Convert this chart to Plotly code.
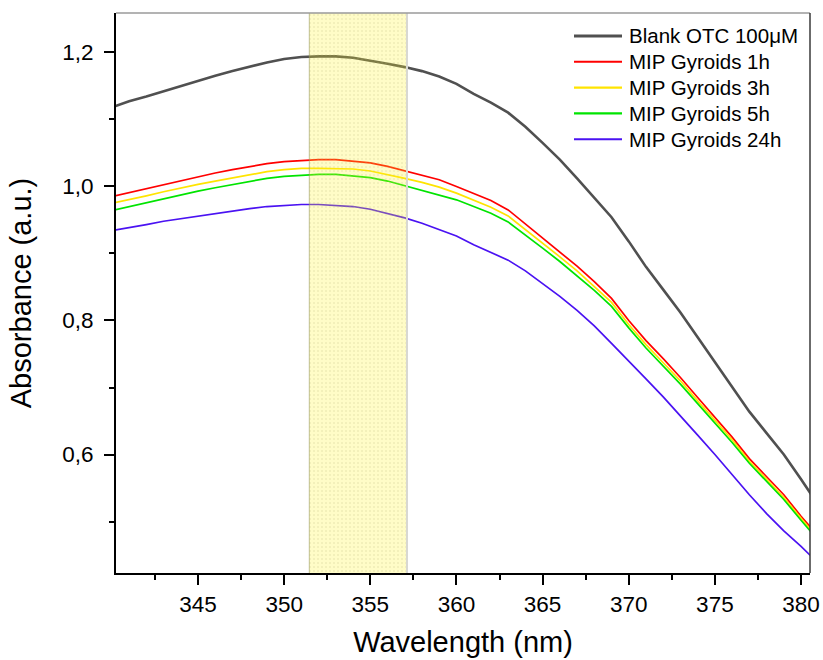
import plotly.graph_objects as go

# UV-Vis absorbance spectra (nm vs a.u.)
wavelength = list(range(340, 382))

blank_otc = [1.118, 1.127, 1.134, 1.142, 1.150, 1.158, 1.165, 1.172, 1.179, 1.185,
             1.190, 1.193, 1.194, 1.194, 1.192, 1.188, 1.183, 1.178, 1.172, 1.164,
             1.153, 1.138, 1.125, 1.110, 1.089, 1.065, 1.040, 1.012, 0.983, 0.954,
             0.918, 0.880, 0.846, 0.812, 0.775, 0.738, 0.700, 0.664, 0.632, 0.600,
             0.563, 0.525]

mip_1h = [0.985, 0.991, 0.997, 1.003, 1.009, 1.015, 1.020, 1.025, 1.030, 1.034,
          1.037, 1.039, 1.040, 1.040, 1.038, 1.035, 1.030, 1.023, 1.017, 1.010,
          1.000, 0.989, 0.979, 0.965, 0.944, 0.923, 0.902, 0.881, 0.858, 0.833,
          0.800, 0.770, 0.743, 0.715, 0.685, 0.656, 0.626, 0.594, 0.567, 0.540,
          0.508, 0.478]

mip_3h = [0.975, 0.980, 0.986, 0.992, 0.998, 1.003, 1.008, 1.013, 1.018, 1.022,
          1.025, 1.027, 1.027, 1.027, 1.026, 1.023, 1.018, 1.012, 1.006, 0.999,
          0.990, 0.979, 0.969, 0.956, 0.936, 0.915, 0.895, 0.874, 0.851, 0.827,
          0.794, 0.764, 0.737, 0.710, 0.680, 0.651, 0.622, 0.590, 0.563, 0.536,
          0.505, 0.475]

mip_5h = [0.964, 0.970, 0.976, 0.982, 0.988, 0.993, 0.998, 1.003, 1.008, 1.012,
          1.015, 1.017, 1.018, 1.018, 1.016, 1.013, 1.008, 1.001, 0.995, 0.988,
          0.980, 0.970, 0.960, 0.947, 0.928, 0.908, 0.888, 0.867, 0.845, 0.821,
          0.789, 0.759, 0.732, 0.705, 0.676, 0.647, 0.618, 0.587, 0.560, 0.533,
          0.502, 0.472]

mip_24h = [0.934, 0.938, 0.943, 0.948, 0.952, 0.956, 0.960, 0.964, 0.967, 0.970,
           0.972, 0.973, 0.973, 0.972, 0.970, 0.966, 0.960, 0.953, 0.945, 0.936,
           0.926, 0.913, 0.901, 0.890, 0.874, 0.855, 0.836, 0.815, 0.792, 0.766,
           0.740, 0.713, 0.686, 0.658, 0.629, 0.600, 0.570, 0.540, 0.512, 0.486,
           0.463, 0.438]

series_names = ["Blank OTC 100\u03bcM", "MIP Gyroids 1h", "MIP Gyroids 3h",
                "MIP Gyroids 5h", "MIP Gyroids 24h"]
series_values = [blank_otc, mip_1h, mip_3h, mip_5h, mip_24h]
series_colors = ["#505050", "#FF0000", "#FFE400", "#00E400", "#4A12F2"]
series_widths = [2.6, 1.7, 1.7, 1.7, 1.7]

# highlighted absorption-maximum window
band_lo, band_hi = 351.46, 357.13

x_range = [340.24, 380.52]
y_range = [0.4233, 1.2587]

FONT = "Liberation Sans, Arial, sans-serif"

# plot-area geometry in pixels (used for the legend block placement)
W, H = 823, 660
M_L, M_R, M_T, M_B = 116, 13, 13, 87
PW, PH = W - M_L - M_R, H - M_T - M_B


def px_to_paper(px, py):
    return (px - M_L) / PW, (H - M_B - py) / PH


fig = go.Figure()

for name, vals, col, w in zip(series_names, series_values, series_colors, series_widths):
    fig.add_trace(go.Scatter(
        x=wavelength, y=vals, mode="lines", name=name,
        line=dict(color=col, width=w), showlegend=False,
    ))

# translucent dotted band laid over the spectra
fig.add_trace(go.Scatter(
    x=[band_lo, band_hi, band_hi, band_lo, band_lo],
    y=[y_range[0], y_range[0], y_range[1], y_range[1], y_range[0]],
    mode="lines", fill="toself", line=dict(width=0),
    fillcolor="rgba(255,242,40,0.26)",
    fillpattern=dict(shape=".", bgcolor="rgba(255,242,40,0.26)",
                     fgcolor="rgba(175,175,120,0.2)", size=4, solidity=0.2,
                     fillmode="replace"),
    showlegend=False, hoverinfo="skip",
))

shapes = [
    # band edges
    dict(type="line", xref="x", yref="y domain", x0=band_lo, x1=band_lo, y0=0, y1=1,
         line=dict(color="rgba(150,150,90,0.6)", width=1), layer="above"),
    dict(type="line", xref="x", yref="y domain", x0=band_hi, x1=band_hi, y0=0, y1=1,
         line=dict(color="#D8D8D2", width=2), layer="above"),
    # top and right frame
    dict(type="line", xref="x domain", yref="y domain", x0=0, x1=1, y0=1, y1=1,
         line=dict(color="#9A9A9A", width=1.5), layer="above"),
    dict(type="line", xref="x domain", yref="y domain", x0=1, x1=1, y0=0, y1=1,
         line=dict(color="#3A3A3A", width=1.5), layer="above"),
]

# legend block: sample line + label per series
annotations = []
LEG_LINE_X0, LEG_LINE_X1, LEG_TEXT_X = 574, 622, 627
LEG_Y0, LEG_DY = 36, 25.8
for i, (name, col, w) in enumerate(zip(series_names, series_colors, series_widths)):
    py = LEG_Y0 + i * LEG_DY
    x0, y = px_to_paper(LEG_LINE_X0, py)
    x1, _ = px_to_paper(LEG_LINE_X1, py)
    xt, _ = px_to_paper(LEG_TEXT_X, py)
    shapes.append(dict(type="line", xref="paper", yref="paper", x0=x0, x1=x1, y0=y, y1=y,
                       line=dict(color=col, width=w + 0.4)))
    annotations.append(dict(text=name, xref="paper", yref="paper", x=xt, y=y,
                            xanchor="left", yanchor="middle", showarrow=False,
                            font=dict(family=FONT, size=20.5, color="black")))

fig.update_layout(
    width=W, height=H,
    margin=dict(l=M_L, r=M_R, t=M_T, b=M_B, autoexpand=False),
    paper_bgcolor="white", plot_bgcolor="white",
    separators=", ",
    font=dict(family=FONT, color="black"),
    showlegend=False,
    shapes=shapes,
    annotations=annotations,
    xaxis=dict(
        range=x_range, showgrid=False, zeroline=False, automargin=False,
        showline=True, linecolor="black", linewidth=2,
        ticks="outside", ticklen=10, tickwidth=1.5, tickcolor="black",
        tick0=345, dtick=5, tickfont=dict(family=FONT, size=22.5),
        ticklabelstandoff=0,
        minor=dict(ticks="outside", ticklen=5, tickwidth=1.5, tickcolor="black",
                   dtick=2.5, tick0=342.5, showgrid=False),
        title=dict(text="Wavelength (nm)", font=dict(family=FONT, size=29), standoff=16),
    ),
    yaxis=dict(
        range=y_range, showgrid=False, zeroline=False, automargin=False,
        showline=True, linecolor="black", linewidth=2,
        ticks="outside", ticklen=10, tickwidth=1.5, tickcolor="black",
        tick0=0.6, dtick=0.2, tickformat=".1f", tickfont=dict(family=FONT, size=22.5),
        ticklabelstandoff=6,
        minor=dict(ticks="outside", ticklen=5, tickwidth=1.5, tickcolor="black",
                   dtick=0.1, tick0=0.5, showgrid=False),
        title=dict(text="Absorbance (a.u.)", font=dict(family=FONT, size=29), standoff=22),
    ),
)

fig.write_html("out.html")
